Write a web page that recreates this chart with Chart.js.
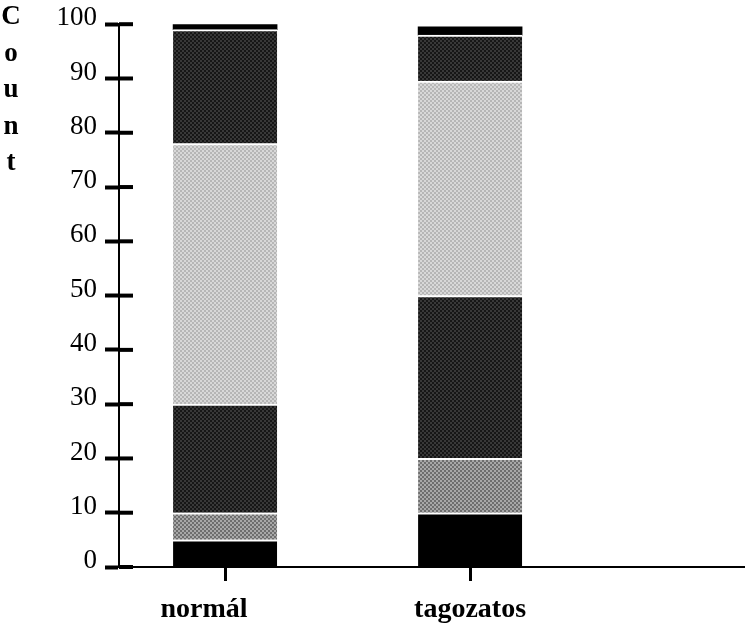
<!DOCTYPE html>
<html>
<head>
<meta charset="utf-8">
<script src="https://cdn.jsdelivr.net/npm/chart.js@4/dist/chart.umd.min.js"></script>
<style>
  html, body { margin: 0; padding: 0; background: #fff; }
  #wrap { width: 745px; height: 631px; position: relative; }
</style>
</head>
<body>
<div id="wrap"><canvas id="chart"></canvas></div>
<script>
// categories on the x axis
const categories = ['normál', 'tagozatos'];
// stacked segments, bottom to top (percent of each group)
const segBlack = [5, 10];
const segMid = [5, 10];
const segDark = [20, 30];
const segLight = [48, 39.5];
const segDark2 = [21, 8.5];
const segTop = [1, 1.5];
const yTicks = [0, 10, 20, 30, 40, 50, 60, 70, 80, 90, 100];
const axisTitle = ['C', 'o', 'u', 'n', 't'];

// small dither patterns, like the halftone fills of the print
function dither(a, b) {
  const c = document.createElement('canvas');
  c.width = 4; c.height = 4;
  const g = c.getContext('2d');
  g.fillStyle = a; g.fillRect(0, 0, 4, 4);
  g.fillStyle = b;
  g.fillRect(0, 0, 2, 2); g.fillRect(2, 2, 2, 2);
  return g.createPattern(c, 'repeat');
}

const fills = [
  '#000000',
  dither('#6e6e6e', '#a8a8a8'),
  dither('#161616', '#383838'),
  dither('#b6b6b6', '#d8d8d8'),
  dither('#161616', '#383838'),
  '#000000'
];
const series = [segBlack, segMid, segDark, segLight, segDark2, segTop];

const datasets = series.map((vals, i) => ({
  data: vals.map((v, j) => ({ x: j + 1, y: v })),
  backgroundColor: fills[i],
  borderColor: '#ffffff',
  borderWidth: i === series.length - 1 ? 0 : { top: 2, right: 0, bottom: 0, left: 0 },
  borderSkipped: false,
  barThickness: 104
}));

const serif = "'Liberation Serif', 'DejaVu Serif', serif";

// inner half of the y ticks and the stacked axis title
const extras = {
  id: 'extras',
  afterDraw(chart) {
    const ctx = chart.ctx;
    const y = chart.scales.y;
    ctx.save();
    ctx.strokeStyle = '#000';
    ctx.lineWidth = 4;
    yTicks.forEach(v => {
      const py = y.getPixelForValue(v);
      ctx.beginPath();
      ctx.moveTo(y.right, py);
      ctx.lineTo(y.right + 14, py);
      ctx.stroke();
    });
    ctx.fillStyle = '#000';
    ctx.font = 'bold 27px ' + serif;
    ctx.textAlign = 'center';
    ctx.textBaseline = 'alphabetic';
    axisTitle.forEach((ch, i) => ctx.fillText(ch, 11, 24 + i * 36.5));
    ctx.restore();
  }
};

new Chart(document.getElementById('chart'), {
  type: 'bar',
  data: { datasets: datasets },
  options: {
    responsive: true,
    maintainAspectRatio: false,
    animation: false,
    devicePixelRatio: 1,
    layout: { padding: { top: 22, right: 0, bottom: 0, left: 0 } },
    plugins: { legend: { display: false }, tooltip: { enabled: false } },
    scales: {
      x: {
        type: 'linear',
        stacked: true,
        offset: false,
        min: 0.567,
        max: 3.122,
        afterBuildTicks: s => { s.ticks = categories.map((c, i) => ({ value: i + 1 })); },
        afterFit: s => { s.height = 64; },
        ticks: {
          // the first label sits a little left of its tick in the print
          callback: v => (categories[v - 1] || '') + (v === 1 ? '\u00a0\u00a0\u00a0\u00a0\u00a0\u00a0' : ''),
          color: '#000',
          font: { family: serif, size: 28, weight: 'bold' },
          padding: 12,
          maxRotation: 0
        },
        grid: { offset: false, drawOnChartArea: false, tickLength: 14, tickWidth: 3, color: '#000' },
        border: { display: true, color: '#000', width: 2 }
      },
      y: {
        stacked: true,
        min: 0,
        max: 100,
        afterBuildTicks: s => { s.ticks = yTicks.map(v => ({ value: v })); },
        afterFit: s => { s.width = 119; },
        ticks: {
          color: '#000',
          font: { family: serif, size: 27 },
          padding: 8,
          labelOffset: -6
        },
        grid: { drawOnChartArea: false, tickLength: 14, tickWidth: 4, color: '#000' },
        border: { display: true, color: '#000', width: 2 }
      }
    }
  },
  plugins: [extras]
});
</script>
</body>
</html>
